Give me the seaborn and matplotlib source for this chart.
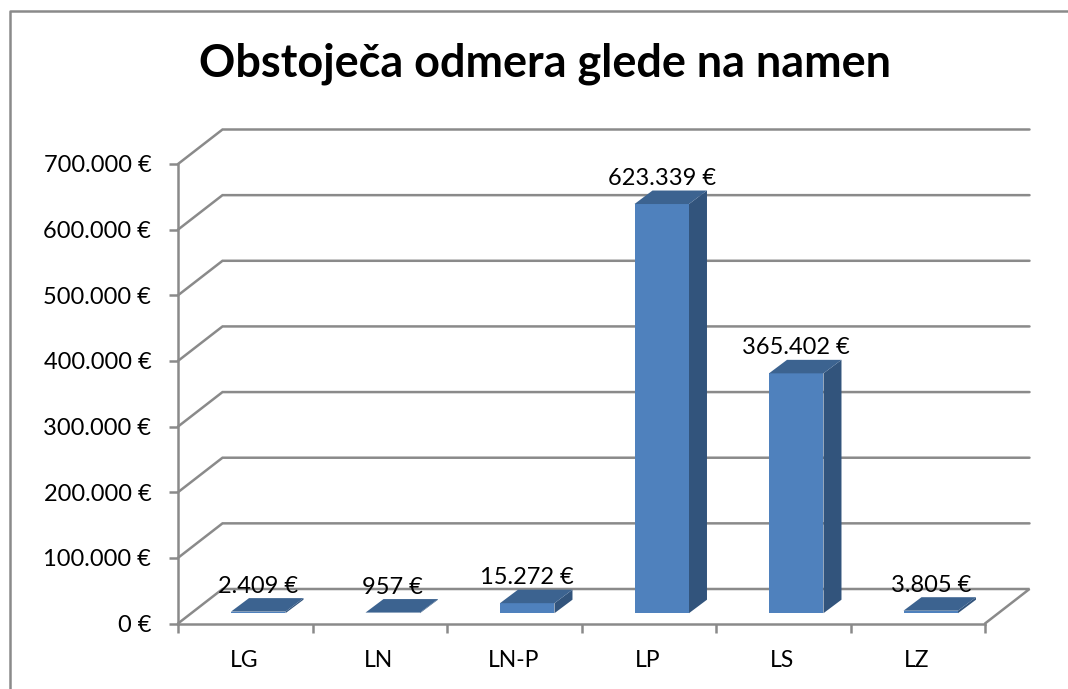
import numpy as np
import pandas as pd
import matplotlib
matplotlib.use('Agg')
import matplotlib.pyplot as plt
from matplotlib.lines import Line2D
from matplotlib.patches import Polygon
from matplotlib.transforms import Affine2D, IdentityTransform
import seaborn as sns

# Values
categories = ['LG', 'LN', 'LN-P', 'LP', 'LS', 'LZ']
values = [2409, 957, 15272, 623339, 365402, 3805]
y_ticks = [0, 100000, 200000, 300000, 400000, 500000, 600000, 700000]
title_text = 'Obstoječa odmera glede na namen'

GRAY = '#8a8a8a'
FRONT = '#4f81bd'
SIDE = '#32547c'
TOP = '#3c6390'
W, H = 1068, 689
LW = 1.8


def euro(v):
    return f'{v:,.0f} €'.replace(',', '.')


sns.set_style('white')
plt.rcParams['font.family'] = ['Lato', 'DejaVu Sans']

fig = plt.figure(figsize=(W / 100, H / 100), dpi=100)
# front plane of the fake 3D box, in pixels of the reference
ax = fig.add_axes([178 / W, 1 - 623.5 / H, (985 - 178) / W, (623.5 - 164) / H])
ax.patch.set_alpha(0)

df = pd.DataFrame({'cat': categories, 'val': values})
sns.barplot(data=df, x='cat', y='val', color=FRONT, saturation=1, width=0.405, ax=ax, zorder=3, linewidth=0)
ax.set_xlim(-0.5, len(categories) - 0.5)
ax.set_ylim(0, 700000)
ax.set_xlabel('')
ax.set_ylabel('')

# ticks
ax.set_yticks(y_ticks)
ax.set_yticklabels([euro(v) for v in y_ticks], fontsize=17, color='black', va='center')
ax.tick_params(axis='y', length=6.5, width=LW, color=GRAY, pad=12.7, left=True)
for lab in ax.get_yticklabels():
    lab.set_transform(lab.get_transform() + Affine2D().translate(0, -2))
ax.set_xticks(range(len(categories)))
ax.set_xticklabels(categories, fontsize=16.5, color='black')
ax.tick_params(axis='x', which='major', length=0, pad=19)
for lab in ax.get_xticklabels():
    lab.set_transform(lab.get_transform() + Affine2D().translate(-0.8, 0))
ax.set_xticks(np.arange(len(categories) + 1) - 0.5, minor=True)
ax.tick_params(axis='x', which='minor', length=6.5, width=LW, color=GRAY, bottom=True)

for s in ['top', 'right']:
    ax.spines[s].set_visible(False)
for s in ['left', 'bottom']:
    ax.spines[s].set_color(GRAY)
    ax.spines[s].set_linewidth(LW)

# depth of the box and of the bars, in pixels
box_dx, box_dy = 44.5, 34.5
bar_dx, bar_dy = 18, 13.5
off_dx, off_dy = 13, 10.3

# side wall and back wall grid lines
x_lo, x_hi = ax.get_xlim()
for v in y_ticks:
    a = ax.transData.transform((x_lo, v))
    b = ax.transData.transform((x_hi, v))
    xs = [a[0], a[0] + box_dx, b[0] + box_dx]
    ys = [a[1], a[1] + box_dy, b[1] + box_dy]
    if v == 0:
        xs.append(b[0])
        ys.append(b[1])
    ax.add_line(Line2D(xs, ys, color=GRAY, lw=LW, transform=IdentityTransform(),
                       clip_on=False, zorder=1, solid_joinstyle='miter'))

# bars: move the seaborn bars into the box and give them a side and a top
shift = Affine2D().translate(off_dx, off_dy)
for bar, v in zip(ax.patches, values):
    x0, x1 = bar.get_x(), bar.get_x() + bar.get_width()
    (px0, py0), (px1, py1) = ax.transData.transform([(x0, 0), (x1, v)])
    px0, py0 = px0 + off_dx, py0 + off_dy
    px1, py1 = px1 + off_dx, py1 + off_dy
    bar.set_transform(ax.transData + shift)
    bar.set_clip_on(False)
    side = [(px1, py0), (px1 + bar_dx, py0 + bar_dy), (px1 + bar_dx, py1 + bar_dy), (px1, py1)]
    top = [(px0, py1), (px0 + bar_dx, py1 + bar_dy), (px1 + bar_dx, py1 + bar_dy), (px1, py1)]
    ax.add_patch(Polygon(side, facecolor=SIDE, lw=0, transform=IdentityTransform(), clip_on=False, zorder=2.5))
    ax.add_patch(Polygon(top, facecolor=TOP, lw=0, transform=IdentityTransform(), clip_on=False, zorder=3.5))
    fig.text((px0 + px1) / 2 / W, (py1 + 25.5) / H, euro(v), ha='center', va='center',
             fontsize=17, color='black', zorder=5)

fig.text(545 / W, 1 - 64 / H, title_text, ha='center', va='center', fontsize=32.4,
         fontweight='bold', color='black')

# chart area frame, cut by the image on the right and at the bottom
fig.add_artist(Line2D([10 / W, 10 / W, 1], [0, 1 - 10.5 / H, 1 - 10.5 / H], color=GRAY, lw=LW))

fig.savefig('out.png', dpi=100, facecolor='white')
